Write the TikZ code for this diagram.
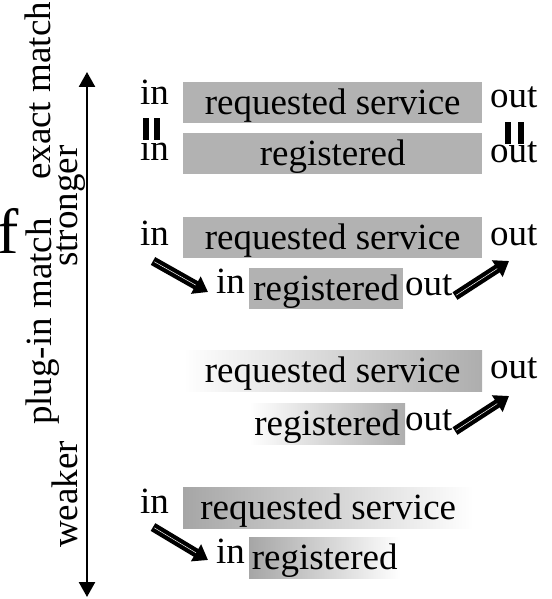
\documentclass[tikz,border=0pt]{standalone}
\usepackage{fontspec}
\setmainfont{Liberation Serif}
\usetikzlibrary{arrows.meta}
\begin{document}
\begin{tikzpicture}[x=1pt,y=-1pt,
  lbl/.style={font=\fontsize{37}{44}\selectfont, inner sep=0pt, anchor=base west},
  side/.style={font=\fontsize{37}{44}\selectfont, inner sep=0pt, anchor=base west, rotate=90},
  box/.style={font=\fontsize{37}{44}\selectfont, inner sep=0pt, anchor=north west,
    text height=32pt, text depth=9pt, minimum height=41pt},
  solidbox/.style={box, fill=black!30},
  bar/.style={fill=black, inner sep=0pt, minimum width=6pt, minimum height=22pt, anchor=north west},
  fat/.style={line width=9pt, -{Triangle[length=14pt,width=19pt]}},
  fatcore/.style={white, line width=0.5pt, shorten >=14pt, shorten <=1.5pt}]
\useasboundingbox (0,0) rectangle (551,599);
\clip (0,0) rectangle (551,599);

% vertical scale
\coordinate (top) at (87,72);
\coordinate (bot) at (87,597);
\draw[line width=2.5pt, {Triangle[length=15pt,width=16pt]}-{Triangle[length=15pt,width=16pt]}] (top) -- (bot);

\node[side] (exact) at (50,180) {exact match};
\node[side] (strong) at (77,267) {stronger};
\node[side] (plug) at (51,425) {plug-in match};
\node[side] (weak) at (77,548) {weaker};
\node[font=\fontsize{64}{70}\selectfont, inner sep=0pt, anchor=base west] (frag) at (-3,253) {f};

% row 1: exact match
\node[solidbox, minimum width=299pt] (req1) at (183,82) {requested service};
\node[solidbox, minimum width=299pt] (reg1) at (183,133) {registered};
\node[lbl] (in1) at (140,105) {in};
\node[lbl] (out1) at (490,107) {out};
\node[lbl] (in1b) at (140,160) {in};
\node[lbl] (out1b) at (490,162) {out};
\node[bar] (b1) at (143,118) {};
\node[bar] (b2) at (154,118) {};
\node[bar] (b3) at (505,122) {};
\node[bar] (b4) at (518,122) {};

% row 2: plug-in match
\node[solidbox, minimum width=299pt] (req2) at (183,217) {requested service};
\node[solidbox, minimum width=154pt] (reg2) at (249,268) {registered};
\node[lbl] (in2) at (140,245) {in};
\node[lbl] (out2) at (490,245) {out};
\node[lbl] (in2b) at (216,293) {in};
\node[lbl] (out2b) at (405,295) {out};
\coordinate (a1s) at (153,261);
\coordinate (a1e) at (208,292);
\coordinate (a2s) at (455,296);
\coordinate (a2e) at (509,261);
\draw[fat] (a1s) -- (a1e);
\draw[fatcore] (a1s) -- (a1e);
\draw[fat] (a2s) -- (a2e);
\draw[fatcore] (a2s) -- (a2e);

% row 3
\node[box, minimum width=299pt, left color=white, right color=black!32] (req3) at (183,350) {requested service};
\node[box, minimum width=156pt, left color=white, right color=black!32] (reg3) at (249,403) {registered};
\node[lbl] (out3) at (490,378) {out};
\node[lbl] (out3b) at (405,430) {out};
\coordinate (a3s) at (455,431);
\coordinate (a3e) at (509,396);
\draw[fat] (a3s) -- (a3e);
\draw[fatcore] (a3s) -- (a3e);

% row 4
\node[box, minimum width=290pt, left color=black!35, right color=white] (req4) at (183,487) {requested service};
\node[box, minimum width=151pt, left color=black!35, right color=white] (reg4) at (249,537) {registered};
\node[lbl] (in4) at (140,513) {in};
\node[lbl] (in4b) at (216,563) {in};
\coordinate (a4s) at (153,527);
\coordinate (a4e) at (208,560);
\draw[fat] (a4s) -- (a4e);
\draw[fatcore] (a4s) -- (a4e);
\end{tikzpicture}
\end{document}
